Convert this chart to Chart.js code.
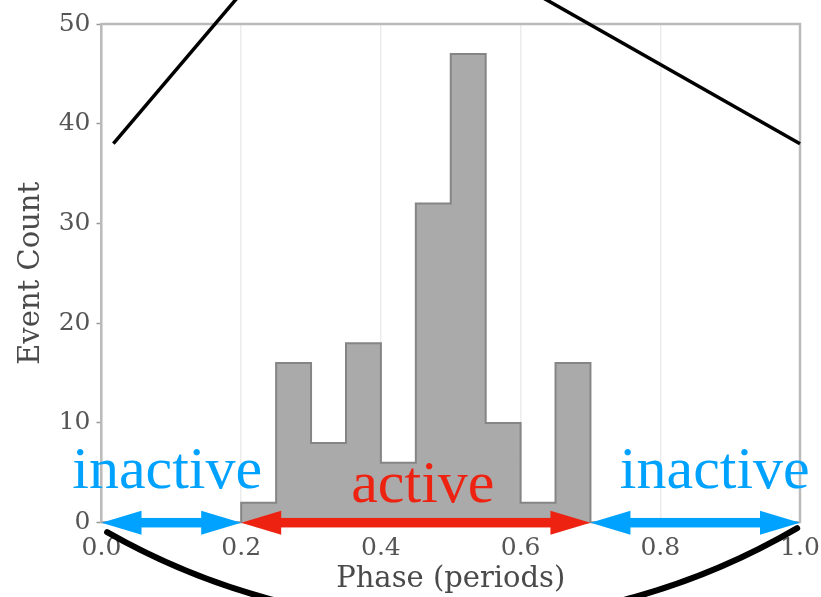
<!DOCTYPE html>
<html>
<head>
<meta charset="utf-8">
<title>Event count by phase</title>
<script src="https://cdn.jsdelivr.net/npm/chart.js@4.4.1/dist/chart.umd.min.js"></script>
<style>
  body { margin: 0; background: #fff; }
  #wrap { width: 821px; height: 597px; position: relative; }
</style>
</head>
<body>
<div id="wrap"><canvas id="phaseChart"></canvas></div>
<script>
const binEdges = [0.00, 0.05, 0.10, 0.15, 0.20, 0.25, 0.30, 0.35, 0.40, 0.45, 0.50,
                  0.55, 0.60, 0.65, 0.70, 0.75, 0.80, 0.85, 0.90, 0.95, 1.00];
const eventCounts = [0, 0, 0, 0, 2, 16, 8, 18, 6, 32, 47, 10, 2, 16, 0, 0, 0, 0, 0, 0];
const xTicks = [0.0, 0.2, 0.4, 0.6, 0.8, 1.0];
const yTicks = [0, 10, 20, 30, 40, 50];

const rangeLabels = ["inactive", "active", "inactive"];
const rangeStart = [0.0, 0.2, 0.7];
const rangeEnd = [0.2, 0.7, 1.0];

// where the range labels sit (phase, count) and their colours
const labelSpots = [[0.094, 3.5], [0.46, 2.1], [0.878, 3.5]];
const rangeColors = ["#00a2ff", "#ee2211", "#00a2ff"];

// black guide strokes, in (phase, count)
const guideLines = [[0.017, 38, 0.205, 53.5], [0.61, 53.5, 1.0, 38]];
const arcPoints = [[0.008, -0.95], [0.223, -7.3], [0.996, -0.55]];

const outline = eventCounts.map((c, i) => ({ x: binEdges[i], y: c }));
outline.push({ x: binEdges[binEdges.length - 1], y: 0 });

function circleThrough(a, b, c) {
  const d = 2 * (a[0] * (b[1] - c[1]) + b[0] * (c[1] - a[1]) + c[0] * (a[1] - b[1]));
  const a2 = a[0] * a[0] + a[1] * a[1];
  const b2 = b[0] * b[0] + b[1] * b[1];
  const c2 = c[0] * c[0] + c[1] * c[1];
  const ux = (a2 * (b[1] - c[1]) + b2 * (c[1] - a[1]) + c2 * (a[1] - b[1])) / d;
  const uy = (a2 * (c[0] - b[0]) + b2 * (a[0] - c[0]) + c2 * (b[0] - a[0])) / d;
  return { x: ux, y: uy, r: Math.hypot(a[0] - ux, a[1] - uy) };
}

function doubleArrow(ctx, x0, x1, yy, color) {
  const head = 40, half = 12, shaft = 9.5;
  ctx.fillStyle = color;
  ctx.fillRect(x0 + head - 1, yy - shaft / 2, x1 - x0 - 2 * head + 2, shaft);
  ctx.beginPath();
  ctx.moveTo(x0, yy);
  ctx.lineTo(x0 + head, yy - half);
  ctx.lineTo(x0 + head, yy + half);
  ctx.closePath();
  ctx.fill();
  ctx.beginPath();
  ctx.moveTo(x1, yy);
  ctx.lineTo(x1 - head, yy - half);
  ctx.lineTo(x1 - head, yy + half);
  ctx.closePath();
  ctx.fill();
}

const overlay = {
  id: "overlay",
  afterDraw(chart) {
    const { ctx, chartArea: area } = chart;
    const xs = chart.scales.x, ys = chart.scales.y;
    const px = v => xs.getPixelForValue(v);
    const py = v => ys.getPixelForValue(v);
    ctx.save();

    // top and right frame
    ctx.strokeStyle = "#bbbbbb";
    ctx.lineWidth = 2.5;
    ctx.beginPath();
    ctx.moveTo(area.left, area.top);
    ctx.lineTo(area.right, area.top);
    ctx.lineTo(area.right, area.bottom);
    ctx.stroke();

    ctx.strokeStyle = "#000";
    ctx.lineWidth = 3.5;
    guideLines.forEach(l => {
      ctx.beginPath();
      ctx.moveTo(px(l[0]), py(l[1]));
      ctx.lineTo(px(l[2]), py(l[3]));
      ctx.stroke();
    });

    const pts = arcPoints.map(p => [px(p[0]), py(p[1])]);
    const c = circleThrough(pts[0], pts[1], pts[2]);
    const aLeft = Math.atan2(pts[0][1] - c.y, pts[0][0] - c.x);
    const aRight = Math.atan2(pts[2][1] - c.y, pts[2][0] - c.x);
    ctx.lineWidth = 6;
    ctx.lineCap = "round";
    ctx.beginPath();
    ctx.arc(c.x, c.y, c.r, aRight, aLeft);
    ctx.stroke();

    rangeLabels.forEach((label, i) => {
      doubleArrow(ctx, px(rangeStart[i]), px(rangeEnd[i]), py(0), rangeColors[i]);
    });

    ctx.font = "60px 'Liberation Serif'";
    ctx.textAlign = "center";
    ctx.textBaseline = "alphabetic";
    rangeLabels.forEach((label, i) => {
      ctx.fillStyle = rangeColors[i];
      ctx.fillText(label, px(labelSpots[i][0]), py(labelSpots[i][1]));
    });
    ctx.restore();
  }
};

const tickFont = { family: "'DejaVu Serif'", size: 25 };
const titleFont = { family: "'DejaVu Serif'", size: 29 };

new Chart(document.getElementById("phaseChart"), {
  type: "line",
  data: {
    datasets: [{
      data: outline,
      stepped: "before",
      fill: "origin",
      backgroundColor: "#aaaaaa",
      borderColor: "#858585",
      borderWidth: 2,
      pointRadius: 0
    }]
  },
  options: {
    responsive: true,
    maintainAspectRatio: false,
    animation: false,
    layout: { padding: { top: 24, right: 21, left: 0, bottom: 0 } },
    plugins: { legend: { display: false }, tooltip: { enabled: false } },
    scales: {
      x: {
        type: "linear",
        min: 0,
        max: 1,
        afterBuildTicks: s => { s.ticks = xTicks.map(v => ({ value: v })); },
        afterFit: s => { s.height = 74.3; s.paddingLeft = 0; s.paddingRight = 0; },
        ticks: {
          callback: v => Number(v).toFixed(1),
          font: tickFont,
          color: "#555",
          padding: 11,
          maxRotation: 0,
          autoSkip: false
        },
        grid: { color: "#ececec", lineWidth: 1.5, drawTicks: false },
        border: { color: "#bbbbbb", width: 2.5 },
        title: { display: true, text: "Phase (periods)", font: titleFont, color: "#4a4a4a", padding: 0 }
      },
      y: {
        min: 0,
        max: 50,
        afterBuildTicks: s => { s.ticks = yTicks.map(v => ({ value: v })); },
        afterFit: s => { s.width = 101.5; s.paddingTop = 0; s.paddingBottom = 0; },
        ticks: { font: tickFont, color: "#555", padding: 6 },
        grid: { drawOnChartArea: false, drawTicks: true, tickLength: 5, tickColor: "#999", tickWidth: 1.5 },
        border: { color: "#bbbbbb", width: 2.5 },
        title: { display: true, text: "Event Count", font: titleFont, color: "#4a4a4a", padding: { top: 14, bottom: 0 } }
      }
    }
  },
  plugins: [overlay]
});
</script>
</body>
</html>
